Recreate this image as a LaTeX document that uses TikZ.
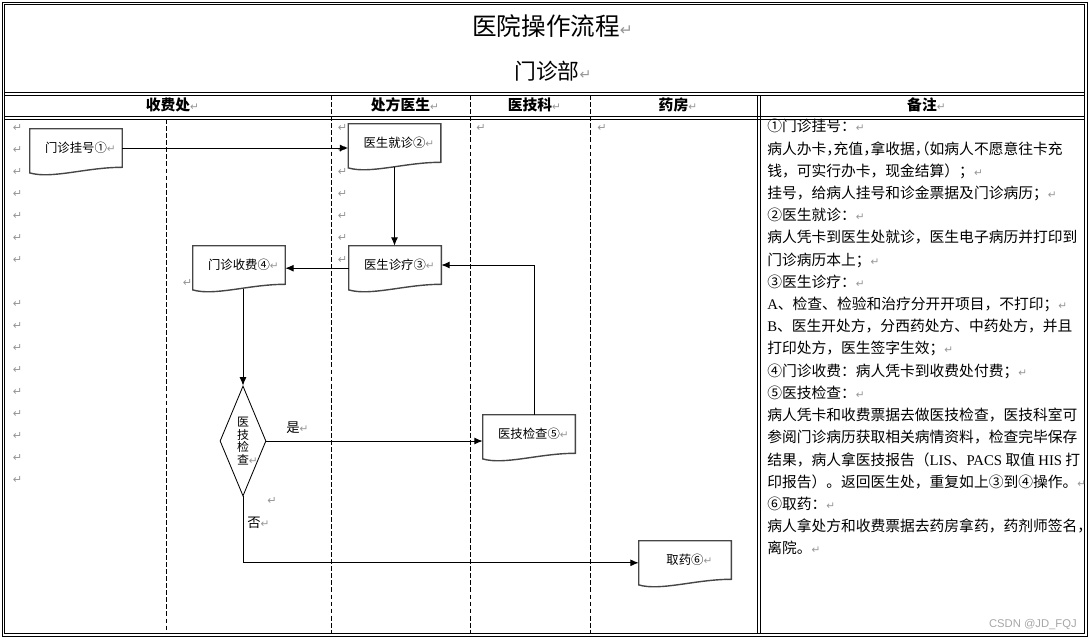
\documentclass[tikz,border=0pt]{standalone}
\usepackage{fontspec}
\setmainfont{Noto Sans CJK SC}
\newfontfamily\latin{Liberation Serif}
\newfontfamily\arrowfont{DejaVu Sans}
\newfontfamily\markfont{Liberation Sans}
\usetikzlibrary{arrows.meta,%
                shapes.geometric}
\definecolor{pilgray}{RGB}{150,150,150}
\definecolor{docgray}{RGB}{70,70,70}
\newcommand{\pil}[1][7.5]{{\mdseries\color{pilgray}\arrowfont\fontsize{#1}{#1}\selectfont ↵}}

\begin{document}
\begin{tikzpicture}
  [x=0.025cm,y=-0.025cm,
   frame/.style={line width=0.6pt},
   lane/.style={line width=0.6pt,dash pattern=on 3.5pt off 1.5pt},
   doc/.style={minimum width=2.3cm,minimum height=0.95cm,inner sep=0pt,font=\fontsize{8.8}{10}\selectfont},
   docline/.style={draw=docgray,line width=1pt},
   flow/.style={line width=0.7pt,-{Latex[length=6pt,width=5pt]}},
   pil/.style={inner sep=0pt,font=\arrowfont\fontsize{8}{8}\selectfont,text=pilgray},
   lbl/.style={inner sep=0pt,font=\fontsize{9.5}{10}\selectfont},
   head/.style={inner sep=0pt,font=\bfseries\fontsize{10.5}{12}\selectfont}]
  \useasboundingbox (0,0) rectangle (1092,641);
  % table frame
  \draw[frame] (2,2) rectangle (1087,636);
  \draw[frame] (4.5,4.5) rectangle (1084.5,633.5);
  \draw[frame] (4.5,92.7) -- (1084.5,92.7) (4.5,95.3) -- (1084.5,95.3);
  \draw[frame] (4.5,116.7) -- (1084.5,116.7) (4.5,119.3) -- (1084.5,119.3);
  \draw[frame] (757,95.3) -- (757,633.5) (760,95.3) -- (760,633.5);
  \draw[lane] (166,119.3) -- (166,633.5);
  \foreach \x in {331,470,590}
    \draw[lane] (\x,95.3) -- (\x,633.5);
  % titles
  \node[font=\fontsize{17.5}{20}\selectfont] (title) at (546,26) {医院操作流程\rlap{\pil[11]}};
  \node[font=\fontsize{15.5}{18}\selectfont] (dept) at (547,71) {门诊部\rlap{\pil[10]}};
  \node[head] (hfee) at (168,105) {收费处\rlap{\pil}};
  \node[head] (hdoc) at (400.5,105) {处方医生\rlap{\pil}};
  \node[head] (htech) at (530,105) {医技科\rlap{\pil}};
  \node[head] (hpharm) at (673.5,105) {药房\rlap{\pil}};
  \node[head] (hnote) at (922,105) {备注\rlap{\pil}};
  % paragraph marks
  \foreach \y in {128,150,...,260} {
    \node[pil] (pa\y) at (17.5,\y) {↵};
    \node[pil] (pb\y) at (342.5,\y) {↵};
  }
  \foreach \y in {304,326,...,480}
    \node[pil] (pc\y) at (17.5,\y) {↵};
  \node[pil] (pd) at (481,128) {↵};
  \node[pil] (pe) at (602,128) {↵};
  \node[pil] (pf) at (187.5,283) {↵};
  \node[pil] (pg) at (272,501) {↵};
  % flow steps
  \node[doc] (reg) at (76,148) {门诊挂号①\rlap{\pil}};
  \node[doc] (visit) at (394.5,143) {医生就诊②\rlap{\pil}};
  \node[doc] (diag) at (395,265) {医生诊疗③\rlap{\pil}};
  \node[doc] (fee) at (239,265) {门诊收费④\rlap{\pil}};
  \node[doc] (exam) at (529,434) {医技检查⑤\rlap{\pil}};
  \node[doc] (drug) at (685,560) {取药⑥\rlap{\pil}};
  \foreach \n in {reg,visit,diag,fee,exam,drug}
    \draw[docline] (\n.north west) -- (\n.north east) -- (\n.south east)
      .. controls ([xshift=-0.9cm]\n.south east) and ([xshift=0.55cm,yshift=-0.3cm]\n.south west)
      .. ([yshift=-0.14cm]\n.south west) -- cycle;
  \node[draw,diamond,line width=0.6pt,aspect=0.42,minimum width=1.15cm,minimum height=2.75cm,
        inner sep=0pt,align=center,font=\fontsize{8.5}{9}\selectfont] (chk) at (243,441) {医\\技\\检\\查\rlap{\pil}};
  \node[lbl] (yes) at (293,428) {是\rlap{\pil}};
  \node[lbl] (no) at (254,523) {否\rlap{\pil}};
  % connectors
  \draw[flow] (reg.east) -- (reg.east -| visit.west);
  \draw[flow,shorten <=3.6pt] (visit.south) -- (visit.south |- diag.north);
  \draw[flow] ([yshift=-0.08cm]diag.west) -- ([yshift=-0.08cm]diag.west -| fee.east);
  \draw[flow,shorten <=3.6pt] (chk.north |- fee.south) -- (chk.north);
  \draw[flow] (chk.east) -- (chk.east -| exam.west);
  \draw[flow] ([xshift=0.125cm]exam.north) |- (diag.east);
  \draw[flow] (chk.south) |- ([yshift=-0.07cm]drug.west);
  % notes
  \node[anchor=north west,inner sep=0pt,align=left,font=\fontsize{10.5}{15.8}\selectfont] (notes) at (767,119) {%
    ①门诊挂号：\pil\\
    {\addfontfeature{RawFeature=+halt}病人办卡，充值，拿收据，（如病人不愿意往卡充}\\
    钱，可实行办卡，现金结算）；\pil\\
    挂号，给病人挂号和诊金票据及门诊病历；\pil\\
    ②医生就诊：\pil\\
    病人凭卡到医生处就诊，医生电子病历并打印到\\
    门诊病历本上；\pil\\
    ③医生诊疗：\pil\\
    {\latin A}、检查、检验和治疗分开开项目，不打印；\pil\\
    {\latin B}、医生开处方，分西药处方、中药处方，并且\\
    打印处方，医生签字生效；\pil\\
    ④门诊收费：病人凭卡到收费处付费；\pil\\
    ⑤医技检查：\pil\\
    病人凭卡和收费票据去做医技检查，医技科室可\\
    参阅门诊病历获取相关病情资料，检查完毕保存\\
    结果，病人拿医技报告（{\latin LIS}、{\latin PACS} 取值 {\latin HIS} 打\\
    印报告）。返回医生处，重复如上③到④操作。\pil\\
    ⑥取药：\pil\\
    病人拿处方和收费票据去药房拿药，药剂师签名{\addfontfeature{RawFeature=+halt}，}\\
    离院。\pil};
  \node[font=\markfont\fontsize{8}{9}\selectfont,text=gray!70,anchor=east,inner sep=0pt] (wmark) at (1077,625) {CSDN @JD\_FQJ};
\end{tikzpicture}
\end{document}
